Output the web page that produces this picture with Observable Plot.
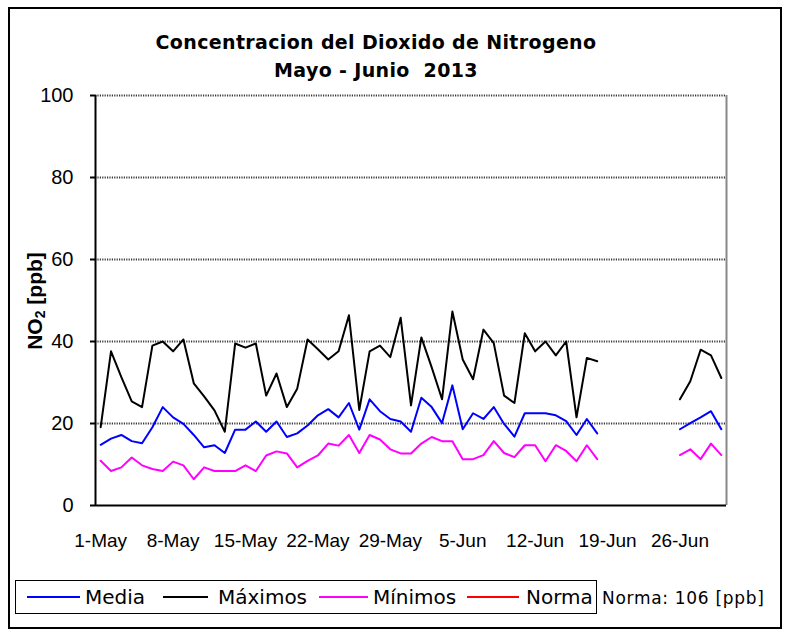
<!DOCTYPE html>
<html>
<head>
<meta charset="utf-8">
<script src="https://cdn.jsdelivr.net/npm/d3@7"></script>
<script src="https://cdn.jsdelivr.net/npm/@observablehq/plot@0.6"></script>
<style>
  html, body { margin: 0; padding: 0; background: #fff; }
  #page { position: relative; width: 785px; height: 635px; overflow: hidden; }
  #frame { position: absolute; left: 8px; top: 7px; width: 774px; height: 622px; border: 2px solid #000; box-sizing: border-box; }
  #title { position: absolute; left: 0; width: 752px; top: 28px; text-align: center; font-family: "DejaVu Sans", sans-serif; font-weight: bold; font-size: 19px; line-height: 28px; letter-spacing: 0.35px; color: #000; white-space: pre; }
  #chart { position: absolute; left: 0; top: 0; }
  #ylabel { position: absolute; left: 35px; top: 301px; transform: translate(-50%, -50%) rotate(-90deg); font-family: "Liberation Sans", Arial, sans-serif; font-weight: bold; font-size: 21px; white-space: nowrap; }
  #ylabel sub { font-size: 14px; vertical-align: -3px; }
  #legendbox { position: absolute; left: 15px; top: 580px; width: 582px; height: 34px; border: 1.5px solid #000; box-sizing: border-box; }
  .sw { position: absolute; height: 2px; top: 596px; }
  .lt { position: absolute; top: 585px; font-family: "DejaVu Sans", sans-serif; font-size: 20px; line-height: 24px; white-space: nowrap; color: #000; }
  #norma { position: absolute; left: 602px; top: 588px; font-family: "DejaVu Sans", sans-serif; font-size: 17px; line-height: 20px; letter-spacing: 0.7px; white-space: pre; }
</style>
</head>
<body>
<div id="page">
  <div id="frame"></div>
  <div id="title"></div>
  <div id="chart"></div>
  <div id="ylabel">NO<sub>2</sub> [ppb]</div>
  <div id="legendbox"></div>
  <div id="legend"></div>
  <div id="norma"></div>
</div>
<script>
// ---- data ----
const titleLines = ["Concentracion del Dioxido de Nitrogeno", "Mayo - Junio  2013"];
const seriesNames = ["Media", "Máximos", "Mínimos", "Norma"];
const seriesColors = ["#0000FF", "#000000", "#FF00FF", "#FF0000"];
const normaValue = 106;
const normaText = "Norma: 106 [ppb]";
const yTicks = [0, 20, 40, 60, 80, 100];
const xTickLabels = ["1-May", "8-May", "15-May", "22-May", "29-May", "5-Jun", "12-Jun", "19-Jun", "26-Jun"];
const xTickDates = ["2013-05-01", "2013-05-08", "2013-05-15", "2013-05-22", "2013-05-29", "2013-06-05", "2013-06-12", "2013-06-19", "2013-06-26"];
const firstDay = "2013-05-01";
const lastDay = "2013-06-30";

const media = [14.8, 16.3, 17.2, 15.7, 15.2, 19.1, 24.0, 21.5, 19.9, 17.2,
  14.2, 14.7, 12.8, 18.5, 18.5, 20.5, 18.0, 20.5, 16.7, 17.6,
  19.5, 22.0, 23.5, 21.5, 25.0, 18.5, 25.9, 23.0, 21.1, 20.5,
  18.0, 26.3, 24.0, 20.1, 29.3, 18.6, 22.5, 21.1, 24.0, 19.9,
  16.8, 22.5, 22.5, 22.5, 22.0, 20.6, 17.2, 21.1, 17.6,
  null, null, null, null, null, null, null,
  18.6, 20.1, 21.5, 23.0, 18.6];
const maximos = [19.1, 37.6, 31.3, 25.4, 24.0, 39.0, 40.0, 37.6, 40.5, 29.8,
  26.6, 23.2, 18.0, 39.5, 38.5, 39.5, 26.8, 32.2, 24.0, 28.5,
  40.5, 38.1, 35.6, 37.6, 46.4, 23.3, 37.6, 39.0, 36.2, 45.8,
  24.4, 41.0, 33.7, 25.9, 47.3, 35.6, 30.8, 42.9, 39.6, 26.8,
  25.0, 42.0, 37.6, 40.0, 36.6, 40.0, 21.5, 36.0, 35.2,
  null, null, null, null, null, null, null,
  25.9, 30.3, 38.0, 36.6, 31.1];
const minimos = [10.9, 8.4, 9.3, 11.7, 9.8, 8.9, 8.4, 10.7, 9.8, 6.4,
  9.3, 8.4, 8.4, 8.4, 9.8, 8.4, 12.2, 13.2, 12.7, 9.3,
  10.9, 12.2, 15.1, 14.6, 17.2, 12.8, 17.2, 16.1, 13.7, 12.7,
  12.7, 15.1, 16.7, 15.7, 15.7, 11.3, 11.3, 12.3, 15.7, 12.8,
  11.8, 14.7, 14.7, 10.8, 14.7, 13.3, 10.8, 14.7, 11.3,
  null, null, null, null, null, null, null,
  12.3, 13.7, 11.3, 15.1, 12.3];

// ---- build ----
const parse = d3.utcParse("%Y-%m-%d");
const d0 = parse(firstDay), d1 = parse(lastDay);
const days = d3.utcDays(d0, d3.utcDay.offset(d1, 1));
const rows = (vals) => days.map((d, i) => ({date: d, value: vals[i] == null ? NaN : vals[i]}));
const xDomain = [d3.utcHour.offset(d0, -12), d3.utcHour.offset(d1, 12)];
const tickDates = xTickDates.map(parse);
const tickLabelOf = new Map(tickDates.map((d, i) => [+d, xTickLabels[i]]));

document.getElementById("title").textContent = titleLines.join("\n");

const axisFont = "'Liberation Sans', Arimo, Arial, sans-serif";
const chart = Plot.plot({
  width: 785,
  height: 580,
  marginLeft: 95,
  marginRight: 59,
  marginTop: 95,
  marginBottom: 75,
  style: {fontFamily: axisFont, background: "transparent", overflow: "visible", color: "#000"},
  x: {type: "utc", domain: xDomain},
  y: {domain: [0, 100]},
  marks: [
    Plot.ruleY(yTicks.filter(d => d > 0), {stroke: "#3a3a3a", strokeWidth: 1.8, strokeDasharray: "1.2,1.2"}),
    Plot.ruleX([xDomain[1]], {stroke: "#888", strokeWidth: 2}),
    Plot.ruleY([normaValue], {stroke: seriesColors[3], strokeWidth: 2, clip: true}),
    Plot.line(rows(minimos), {x: "date", y: "value", stroke: seriesColors[2], strokeWidth: 2}),
    Plot.line(rows(media), {x: "date", y: "value", stroke: seriesColors[0], strokeWidth: 2}),
    Plot.line(rows(maximos), {x: "date", y: "value", stroke: seriesColors[1], strokeWidth: 2}),
    Plot.axisY({ticks: yTicks, tickSize: 5, tickPadding: 17, fontSize: 20, fontFamily: axisFont, stroke: "#000", strokeWidth: 2, label: null}),
    Plot.axisX({ticks: tickDates, tickFormat: d => tickLabelOf.get(+d), tickSize: 0, tickPadding: 28, fontSize: 19, fontFamily: axisFont, label: null}),
    Plot.ruleY([0], {stroke: "#000", strokeWidth: 2}),
    Plot.ruleX([xDomain[0]], {stroke: "#000", strokeWidth: 2})
  ]
});
document.getElementById("chart").appendChild(chart);

// legend
const swX = [[27, 80], [163, 208], [319, 368], [467, 519]];
const txX = [85, 218, 373, 526];
const leg = document.getElementById("legend");
seriesNames.forEach((name, i) => {
  const s = document.createElement("div");
  s.className = "sw";
  s.style.left = swX[i][0] + "px";
  s.style.width = (swX[i][1] - swX[i][0]) + "px";
  s.style.background = seriesColors[i];
  leg.appendChild(s);
  const t = document.createElement("div");
  t.className = "lt";
  t.style.left = txX[i] + "px";
  t.textContent = name;
  leg.appendChild(t);
});
document.getElementById("norma").textContent = normaText;
</script>
</body>
</html>
